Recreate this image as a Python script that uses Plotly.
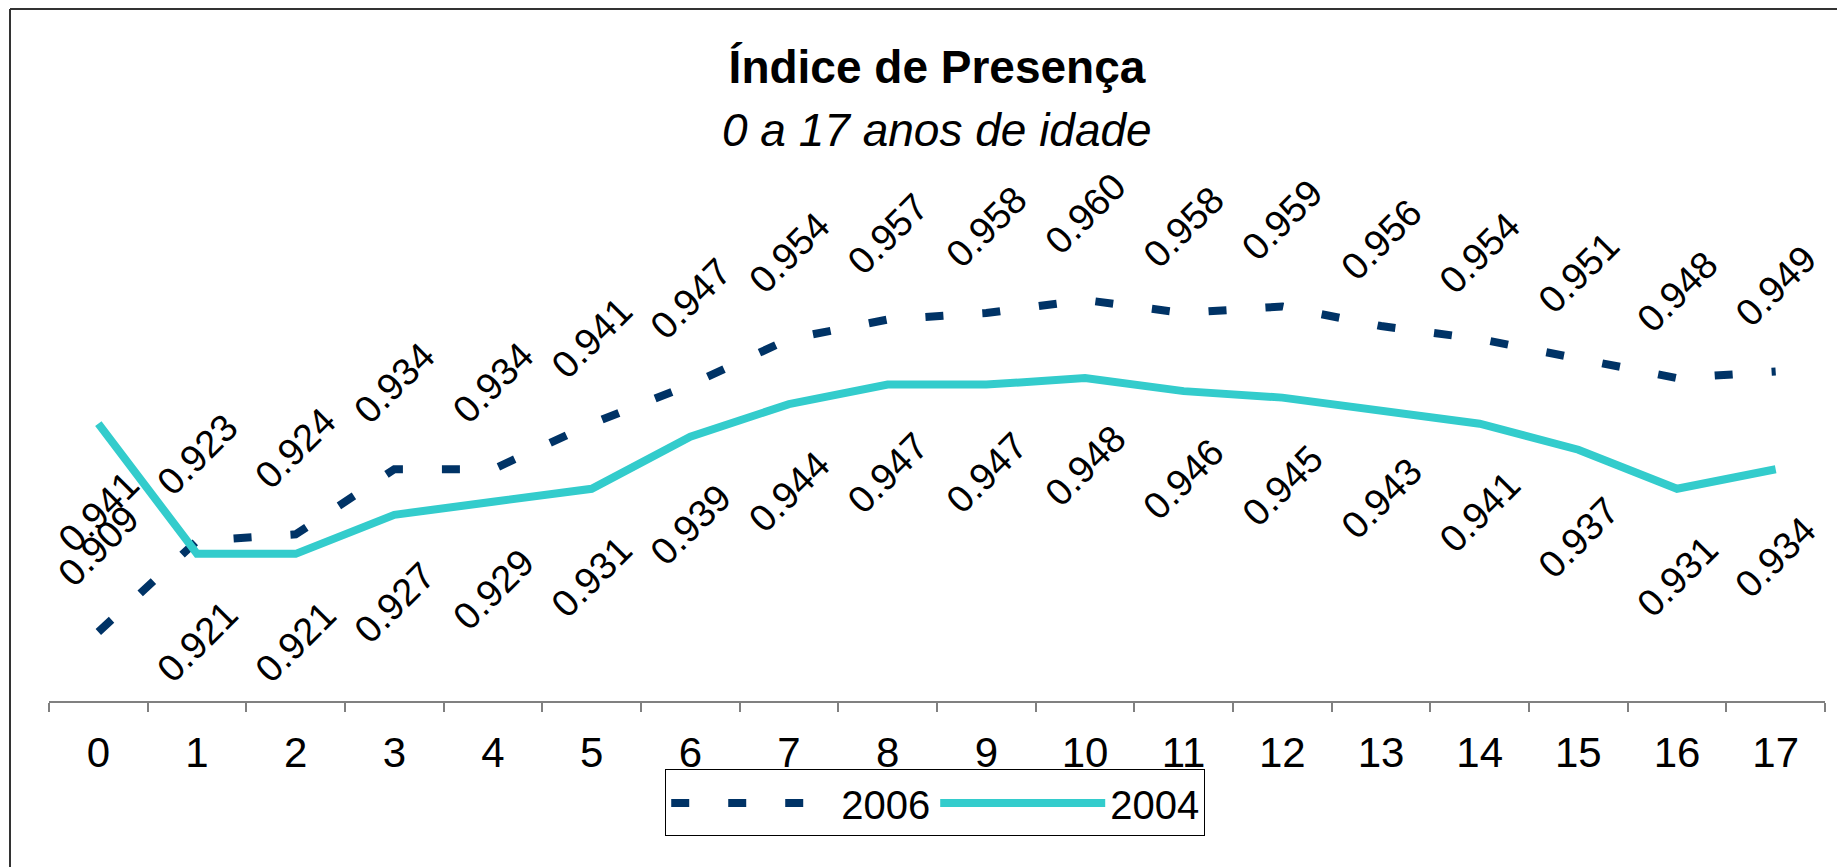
import plotly.graph_objects as go

ages = [str(i) for i in range(18)]
serie_2006 = [0.909, 0.923, 0.924, 0.934, 0.934, 0.941, 0.947, 0.954, 0.957,
              0.958, 0.960, 0.958, 0.959, 0.956, 0.954, 0.951, 0.948, 0.949]
serie_2004 = [0.941, 0.921, 0.921, 0.927, 0.929, 0.931, 0.939, 0.944, 0.947,
              0.947, 0.948, 0.946, 0.945, 0.943, 0.941, 0.937, 0.931, 0.934]

title_text = "Índice de Presença"
subtitle_text = "0 a 17 anos de idade"

FONT = "Liberation Sans, Arial, sans-serif"
NAVY = "#003366"
CYAN = "#33CCCC"

W, H = 1837, 859          # page body has an 8px margin
ML, MR, MT, MB = 41, 20, 142, 166
PW = W - ML - MR
PH = H - MT - MB

fig = go.Figure()
fig.add_trace(go.Scatter(
    x=ages, y=serie_2006, name="2006", mode="lines",
    line=dict(color=NAVY, width=8, dash="18px,39px"),
))
fig.add_trace(go.Scatter(
    x=ages, y=serie_2004, name="2004", mode="lines",
    line=dict(color=CYAN, width=8),
))

annotations = []
for a, v in zip(ages, serie_2006):
    annotations.append(dict(x=a, y=v, xref="x", yref="y", text=f"{v:.3f}",
                            showarrow=False, textangle=-45, yshift=86,
                            font=dict(family=FONT, size=38, color="black")))
for a, v in zip(ages, serie_2004):
    annotations.append(dict(x=a, y=v, xref="x", yref="y", text=f"{v:.3f}",
                            showarrow=False, textangle=-45, yshift=-88,
                            font=dict(family=FONT, size=38, color="black")))
annotations.append(dict(x=0.5, y=(H - MB - 122) / PH, xref="paper", yref="paper",
                        text=f"<i>{subtitle_text}</i>", showarrow=False,
                        yanchor="middle", xanchor="center",
                        font=dict(family=FONT, size=46, color="black")))

bx = (2 - ML) / PW
by = (H - MB - 1) / PH

fig.update_layout(
    width=W, height=H,
    paper_bgcolor="white", plot_bgcolor="white",
    margin=dict(l=ML, r=MR, t=MT, b=MB),
    title=dict(text=f"<b>{title_text}</b>", x=0.5, xref="paper", xanchor="center",
               y=1 - 59 / H, yanchor="middle",
               font=dict(family=FONT, size=46, color="black")),
    font=dict(family=FONT, color="black"),
    xaxis=dict(type="category", range=[-0.5, 17.5], showline=True, linecolor="#808080",
               linewidth=1.5, ticks="outside", tickson="boundaries", ticklen=9,
               tickcolor="#808080", tickwidth=1.5, showgrid=False, zeroline=False,
               tickfont=dict(family=FONT, size=42, color="black"), ticklabelstandoff=14),
    yaxis=dict(range=[0.8984, 0.8984 + PH / 6510], visible=False, showgrid=False,
               zeroline=False),
    showlegend=True,
    legend=dict(orientation="h", x=0.499, xanchor="center", y=-0.185, yanchor="middle",
                bordercolor="black", borderwidth=1, bgcolor="white",
                font=dict(family=FONT, size=40, color="black"), itemwidth=165),
    annotations=annotations,
    shapes=[
        dict(type="line", xref="paper", yref="paper", x0=bx, x1=1.05,
             y0=by, y1=by, line=dict(color="#333333", width=2)),
        dict(type="line", xref="paper", yref="paper", x0=bx, x1=bx,
             y0=-0.4, y1=by, line=dict(color="#333333", width=2)),
    ],
)

fig.write_html("out.html")
